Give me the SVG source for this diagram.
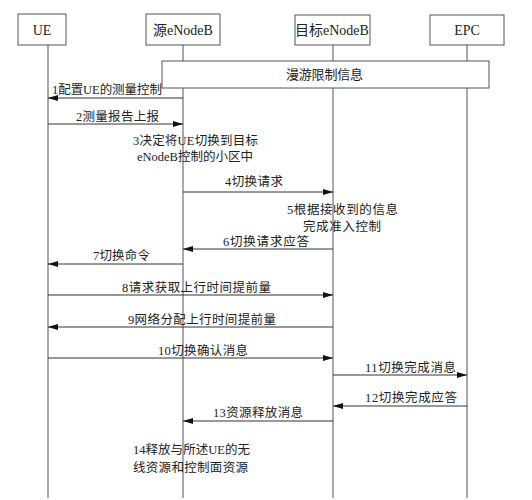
<svg xmlns="http://www.w3.org/2000/svg" width="532" height="500" viewBox="0 0 532 500">
<style>
.box{fill:#fff;stroke:#555;stroke-width:1}
.life{stroke:#555;stroke-width:1}
.msg{stroke:#333;stroke-width:1;fill:none}
.hd{font-family:"Liberation Serif","Noto Sans CJK SC",serif;font-size:14px;fill:#222;text-anchor:middle}
.t{font-family:"Liberation Serif","Noto Sans CJK SC",serif;font-size:12.5px;fill:#222}
</style>
<defs>
<marker id="ah" viewBox="0 0 10 6" refX="10" refY="3" markerWidth="10" markerHeight="6" markerUnits="userSpaceOnUse" orient="auto">
<path d="M0,0 L10,3 L0,6 Z" fill="#111"/>
</marker>
</defs>
<rect width="532" height="500" fill="#fff"/>
<g id="lifelines">
<line class="life" x1="48" y1="45" x2="48" y2="498"/>
<line class="life" x1="183" y1="45" x2="183" y2="498"/>
<line class="life" x1="333" y1="45" x2="333" y2="498"/>
<line class="life" x1="467" y1="45" x2="467" y2="498"/>
</g>
<g id="ue"><rect class="box" x="18" y="14" width="48" height="31"/><text class="hd" x="42" y="35">UE</text></g>
<g id="src"><rect class="box" x="146" y="14" width="74" height="31"/><text class="hd" x="183" y="35">源eNodeB</text></g>
<g id="tgt"><rect class="box" x="295" y="15" width="75" height="30"/><text class="hd" x="332" y="35">目标eNodeB</text></g>
<g id="epc"><rect class="box" x="430" y="15" width="74" height="30"/><text class="hd" x="467" y="35">EPC</text></g>
<g id="roam"><rect class="box" x="162" y="61" width="327" height="27"/><text class="t" x="286" y="79" style="font-size:13px" textLength="77" lengthAdjust="spacing">漫游限制信息</text></g>
<g id="connectors">
<line class="msg" x1="183" y1="98" x2="48" y2="98" marker-end="url(#ah)"/>
<line class="msg" x1="48" y1="124" x2="183" y2="124" marker-end="url(#ah)"/>
<line class="msg" x1="183" y1="192" x2="333" y2="192" marker-end="url(#ah)"/>
<line class="msg" x1="333" y1="249" x2="183" y2="249" marker-end="url(#ah)"/>
<line class="msg" x1="183" y1="264" x2="48" y2="264" marker-end="url(#ah)"/>
<line class="msg" x1="48" y1="295" x2="333" y2="295" marker-end="url(#ah)"/>
<line class="msg" x1="333" y1="327" x2="48" y2="327" marker-end="url(#ah)"/>
<line class="msg" x1="48" y1="358" x2="333" y2="358" marker-end="url(#ah)"/>
<line class="msg" x1="333" y1="375" x2="467" y2="375" marker-end="url(#ah)"/>
<line class="msg" x1="467" y1="406" x2="333" y2="406" marker-end="url(#ah)"/>
<line class="msg" x1="333" y1="421" x2="183" y2="421" marker-end="url(#ah)"/>
</g>
<g id="labels">
<text class="t" x="52" y="94" textLength="110" lengthAdjust="spacing">1配置UE的测量控制</text>
<text class="t" x="76" y="121" textLength="83" lengthAdjust="spacing">2测量报告上报</text>
<text class="t" x="133" y="145" textLength="125" lengthAdjust="spacing">3决定将UE切换到目标</text>
<text class="t" x="137" y="161" textLength="116" lengthAdjust="spacing">eNodeB控制的小区中</text>
<text class="t" x="225" y="186" textLength="58" lengthAdjust="spacing">4切换请求</text>
<text class="t" x="287" y="214" textLength="111" lengthAdjust="spacing">5根据接收到的信息</text>
<text class="t" x="303" y="231" textLength="78" lengthAdjust="spacing">完成准入控制</text>
<text class="t" x="223" y="246" textLength="86" lengthAdjust="spacing">6切换请求应答</text>
<text class="t" x="93" y="260" textLength="57" lengthAdjust="spacing">7切换命令</text>
<text class="t" x="122" y="292" textLength="149" lengthAdjust="spacing">8请求获取上行时间提前量</text>
<text class="t" x="128" y="324" textLength="148" lengthAdjust="spacing">9网络分配上行时间提前量</text>
<text class="t" x="158" y="355" textLength="90" lengthAdjust="spacing">10切换确认消息</text>
<text class="t" x="365" y="372" textLength="91" lengthAdjust="spacing">11切换完成消息</text>
<text class="t" x="365" y="402" textLength="92" lengthAdjust="spacing">12切换完成应答</text>
<text class="t" x="213" y="417" textLength="90" lengthAdjust="spacing">13资源释放消息</text>
<text class="t" x="133" y="454" textLength="117" lengthAdjust="spacing">14释放与所述UE的无</text>
<text class="t" x="133" y="472" textLength="115" lengthAdjust="spacing">线资源和控制面资源</text>
</g>
</svg>
